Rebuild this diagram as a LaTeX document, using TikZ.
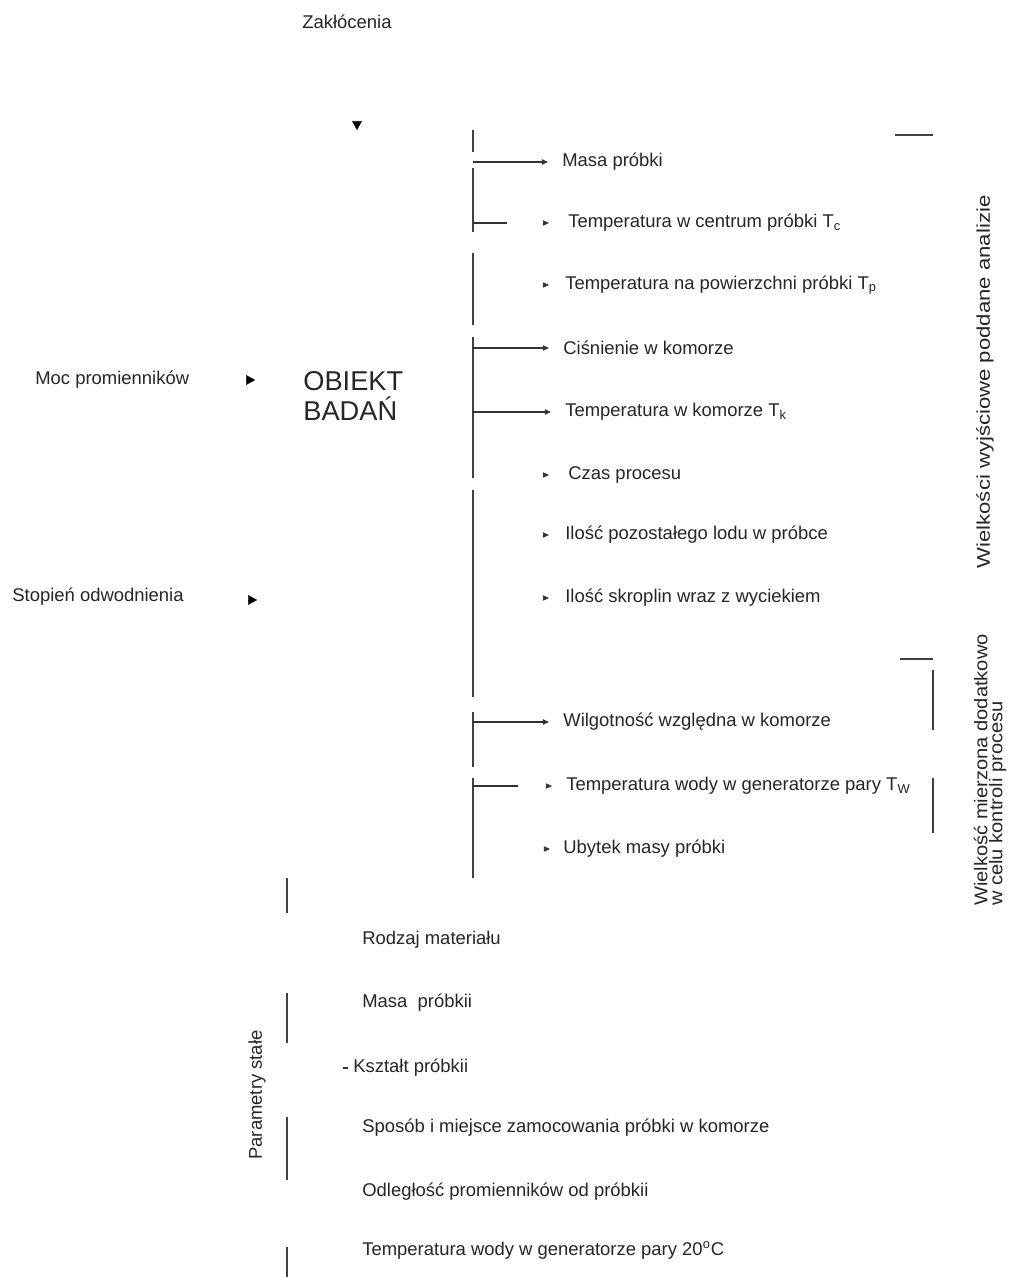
\documentclass[tikz,border=0pt]{standalone}
\usepackage{fontspec}
\setmainfont{Liberation Sans}
\usetikzlibrary{arrows.meta}

\begin{document}
\begin{tikzpicture}
[x=0.02cm, y=-0.02cm,
item/.style={anchor=west, inner sep=0pt, font=\fontsize{10.5}{12}\selectfont, text=black!85},
side/.style={rotate=90, inner sep=0pt, font=\fontsize{10.5}{8.5}\selectfont, text=black!85},
bus/.style={black!75, line width=0.7pt},
link/.style={black!80, line width=0.7pt, shorten >=0.28cm, -{Triangle[length=3.5pt, width=3pt]}},
stub/.style={black!80, line width=0.7pt},
tip/.style={black!80, line width=0.5pt, -{Triangle[length=3.5pt, width=3pt]}},
big tip/.style={black, line width=0.1pt, -{Triangle[length=5pt, width=5.5pt]}}]
\fill[white] (0,0) rectangle (1011,1277);
\useasboundingbox (0,0) rectangle (1011,1277);
\node[item] (zakl) at (302,22) {Zakłócenia};
\node[item] (moc) at (35,380) {Moc promienników};
\node[item] (stop) at (12,597) {Stopień odwodnienia};
\node[item, font=\fontsize{15.5}{17.5}\selectfont, align=left] (obiekt) at (303,396) {OBIEKT\\BADAŃ};
\draw[big tip] (357,121) -- (357,130);
\draw[big tip] (246,380) -- (255,380);
\draw[big tip] (248,600) -- (257,600);
\node[item] (masa) at (562,162) {Masa próbki};
\node[item] (tc) at (568,223) {Temperatura w centrum próbki T\textsubscript{c}};
\node[item] (tp) at (565,285) {Temperatura na powierzchni próbki T\textsubscript{p}};
\node[item] (cis) at (563,348) {Ciśnienie w komorze};
\node[item] (tk) at (565,412) {Temperatura w komorze T\textsubscript{k}};
\node[item] (czas) at (568,475) {Czas procesu};
\node[item] (lod) at (565,535) {Ilość pozostałego lodu w próbce};
\node[item] (skr) at (565,598) {Ilość skroplin wraz z wyciekiem};
\node[item] (wilg) at (563,722) {Wilgotność względna w komorze};
\node[item] (tw) at (566,786) {Temperatura wody w generatorze pary T\textsubscript{W}};
\node[item] (ubyt) at (563,849) {Ubytek masy próbki};
\coordinate (b masa) at (473,162);
\coordinate (b tc) at (473,223);
\coordinate (b cis) at (473,348);
\coordinate (b tk) at (473,412);
\coordinate (b wilg) at (473,722);
\coordinate (b tw) at (473,786);
\draw[bus] (473,130) -- (473,152);
\draw[bus] (473,168) -- (473,232);
\draw[bus] (473,253) -- (473,325);
\draw[bus] (473,337) -- (473,478);
\draw[bus] (473,490) -- (473,697);
\draw[bus] (473,712) -- (473,767);
\draw[bus] (473,778) -- (473,878);
\draw[link] (b masa) -- (masa);
\draw[link] (b cis) -- (cis);
\draw[link] (b tk) -- (tk);
\draw[link] (b wilg) -- (wilg);
\draw[stub] (b tc) -- ++(34,0);
\draw[stub] (b tw) -- ++(45,0);
\draw[tip] ([xshift=-0.5cm]tc.west) -- ([xshift=-0.38cm]tc.west);
\draw[tip] ([xshift=-0.44cm]tp.west) -- ([xshift=-0.32cm]tp.west);
\draw[tip] ([xshift=-0.5cm]czas.west) -- ([xshift=-0.38cm]czas.west);
\draw[tip] ([xshift=-0.44cm]lod.west) -- ([xshift=-0.32cm]lod.west);
\draw[tip] ([xshift=-0.44cm]skr.west) -- ([xshift=-0.32cm]skr.west);
\draw[tip] ([xshift=-0.4cm]tw.west) -- ([xshift=-0.28cm]tw.west);
\draw[tip] ([xshift=-0.38cm]ubyt.west) -- ([xshift=-0.26cm]ubyt.west);
\draw[bus] (895,135) -- (933,135);
\draw[bus] (900,659) -- (933,659);
\draw[bus] (933,670) -- (933,730);
\draw[bus] (933,778) -- (933,833);
\node[side, font=\fontsize{10.5}{8.5}\selectfont\addfontfeature{FakeStretch=1.2}] (wyj) at (985,382) {Wielkości wyjściowe poddane analizie};
\node[side, font=\fontsize{10.5}{8.5}\selectfont\addfontfeature{FakeStretch=1.09}, align=left] (kontr) at (990,770) {Wielkość mierzona dodatkowo\\w celu kontroli procesu};
\node[side] (param) at (257,1095) {Parametry stałe};
\draw[bus] (287,878) -- (287,913);
\draw[bus] (287,993) -- (287,1043);
\draw[bus] (287,1117) -- (287,1180);
\draw[bus] (287,1247) -- (287,1277);
\node[item] (rodz) at (362,940) {Rodzaj materiału};
\node[item] (masa st) at (362,1003) {Masa~ próbkii};
\node[item] (kszt) at (353,1068) {Kształt próbkii};
\node[item] (spos) at (362,1128) {Sposób i miejsce zamocowania próbki w komorze};
\node[item] (odl) at (362,1192) {Odległość promienników od próbkii};
\node[item] (temp st) at (362,1250) {Temperatura wody w generatorze pary 20\textsuperscript{o}C};
\draw[stub] ([xshift=-0.2cm]kszt.west) -- ([xshift=-0.1cm]kszt.west);
\end{tikzpicture}
\end{document}
